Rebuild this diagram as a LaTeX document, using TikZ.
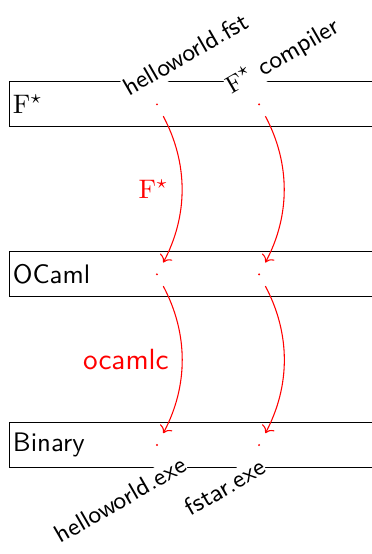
\documentclass[tikz,border=0pt]{standalone}
\usepackage{amsmath, amssymb}
\usepackage{tikz}
\usetikzlibrary{positioning, arrows.meta}

\tikzset{
  layer/.style={draw, anchor=west, minimum height=0.59cm, text width=4.9cm,
    align=left, inner xsep=1.2pt, font=\sffamily},
  artifact/.style={circle, fill=red, inner sep=0pt, minimum size=0.8pt},
  filelabel/.style={rotate=30, fill=white, inner sep=0pt, text height=7.3pt,
    text depth=2.4pt, font=\sffamily\fontsize{9.3}{11}\selectfont},
  compile/.style={->, red, bend left=28, shorten <=4.4pt, shorten >=4.4pt},
  steplabel/.style={midway, left=1pt, red, font=\sffamily}
}

\begin{document}
\begin{tikzpicture}
  \useasboundingbox (0,0) rectangle (4.88,-7.27);
  % layers
  \node[layer] (fstar)  at (0.12,-1.37) {$\mathrm{F}^\star$};
  \node[layer] (ocaml)  at (0.12,-3.60) {OCaml};
  \node[layer] (binary) at (0.12,-5.84) {Binary};
  % artifacts in each layer
  \node[artifact] (srcfst) at (2.06,-1.37) {};
  \node[artifact] (cmpfst) at (3.40,-1.37) {};
  \node[artifact] (srcml)  at (2.06,-3.60) {};
  \node[artifact] (cmpml)  at (3.40,-3.60) {};
  \node[artifact] (srcbin) at (2.06,-5.84) {};
  \node[artifact] (cmpbin) at (3.40,-5.84) {};
  % file names
  \node[filelabel, anchor=base west] (srcname) at (1.69,-1.27) {helloworld.fst};
  \node[filelabel, anchor=base west] (cmpname) at (3.03,-1.245) {$\mathrm{F}^\star$ compiler};
  \node[filelabel, anchor=base east] (exename) at (2.48,-6.166) {helloworld.exe};
  \node[filelabel, anchor=base east] (fstname) at (3.52,-6.193) {fstar.exe};
  % compilation steps
  \draw[compile] (srcfst) to node[steplabel] {$\mathrm{F}^\star$} (srcml);
  \draw[compile] (cmpfst) to (cmpml);
  \draw[compile] (srcml) to node[steplabel, font=\sffamily\fontsize{10.9}{13}\selectfont] {ocamlc} (srcbin);
  \draw[compile] (cmpml) to (cmpbin);
\end{tikzpicture}
\end{document}
